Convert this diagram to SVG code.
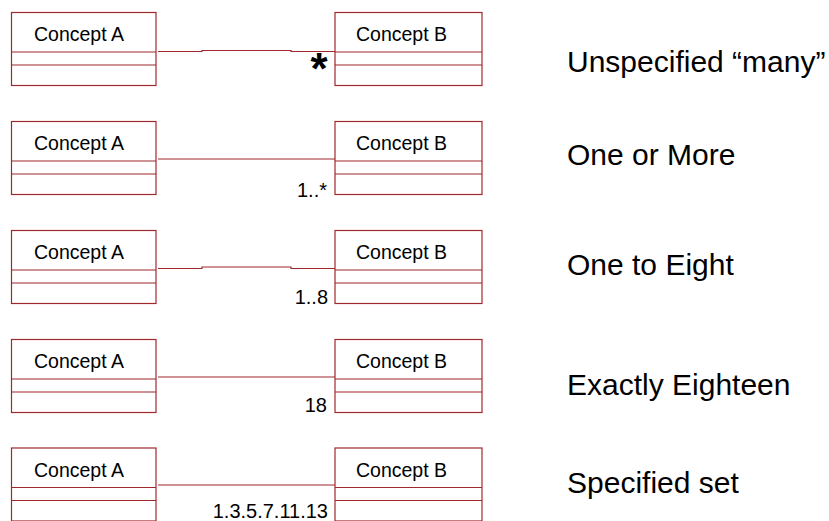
<svg xmlns="http://www.w3.org/2000/svg" width="829" height="521" viewBox="0 0 829 521">
<style>
.box{fill:#fff;stroke:#a0282c;stroke-width:1.2}
.div{stroke:#a0282c;stroke-width:1.2}
.conn{fill:none;stroke:#a0282c;stroke-width:1.2}
.name{font-family:"Liberation Sans",Arial,sans-serif;font-size:19.5px;fill:#000}
.mult{font-family:"Liberation Sans",Arial,sans-serif;font-size:20px;fill:#000;text-anchor:end}
.lbl{font-family:"Liberation Sans",Arial,sans-serif;font-size:30px;fill:#000}
</style>
<defs>
<g id="boxA">
<rect class="box" x="11.5" y="0" width="144.5" height="73"/>
<line class="div" x1="11.5" y1="39.5" x2="156" y2="39.5"/>
<line class="div" x1="11.5" y1="52.5" x2="156" y2="52.5"/>
<text class="name" x="34" y="28.5">Concept A</text>
</g>
<g id="boxB">
<rect class="box" x="335" y="0" width="147" height="73"/>
<line class="div" x1="335" y1="39.5" x2="482" y2="39.5"/>
<line class="div" x1="335" y1="52.5" x2="482" y2="52.5"/>
<text class="name" x="356" y="28.5">Concept B</text>
</g>
</defs>
<g id="connectors">
<polyline class="conn" points="158,51.5 202,51.5 202,50.5 291,50.5 291,51.5 335,51.5"/>
<line class="conn" x1="158" y1="159" x2="335" y2="159"/>
<polyline class="conn" points="158,268.5 202,268.5 202,267 291,267 291,268.5 335,268.5"/>
<line class="conn" x1="158" y1="377" x2="335" y2="377"/>
<line class="conn" x1="158" y1="485" x2="335" y2="485"/>
</g>
<g id="row1-a" transform="translate(0,12.5)"><use href="#boxA"/></g>
<g id="row1-b" transform="translate(0,12.5)"><use href="#boxB"/></g>
<g id="row2-a" transform="translate(0,121.5)"><use href="#boxA"/></g>
<g id="row2-b" transform="translate(0,121.5)"><use href="#boxB"/></g>
<g id="row3-a" transform="translate(0,230.5)"><use href="#boxA"/></g>
<g id="row3-b" transform="translate(0,230.5)"><use href="#boxB"/></g>
<g id="row4-a" transform="translate(0,339.5)"><use href="#boxA"/></g>
<g id="row4-b" transform="translate(0,339.5)"><use href="#boxB"/></g>
<g id="row5-a" transform="translate(0,448)"><use href="#boxA"/></g>
<g id="row5-b" transform="translate(0,448)"><use href="#boxB"/></g>
<g id="multiplicities">
<text x="319" y="84" font-family="Liberation Sans, Arial, sans-serif" font-size="44" font-weight="bold" text-anchor="middle">*</text>
<text class="mult" x="327" y="196.5">1..*</text>
<text class="mult" x="328" y="304">1..8</text>
<text class="mult" x="327" y="412">18</text>
<text class="mult" x="328" y="518">1.3.5.7.11.13</text>
</g>
<g id="labels">
<text class="lbl" x="567" y="72">Unspecified “many”</text>
<text class="lbl" x="567" y="165">One or More</text>
<text class="lbl" x="567" y="275">One to Eight</text>
<text class="lbl" x="567" y="395">Exactly Eighteen</text>
<text class="lbl" x="567" y="493">Specified set</text>
</g>
</svg>
